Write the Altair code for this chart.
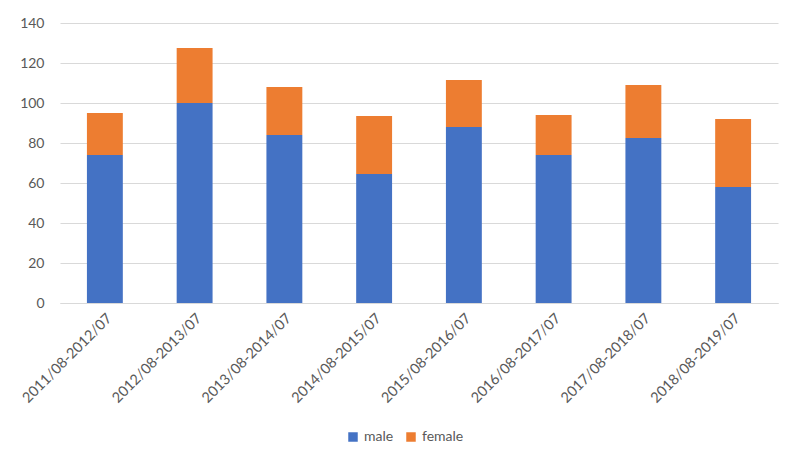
import altair as alt
import pandas as pd

periods = ["2011/08-2012/07", "2012/08-2013/07", "2013/08-2014/07", "2014/08-2015/07",
           "2015/08-2016/07", "2016/08-2017/07", "2017/08-2018/07", "2018/08-2019/07"]
male = [74, 100, 84, 64.5, 88, 74, 82.5, 58]
female = [21, 27.5, 24, 29, 23.5, 20, 26.5, 34]
series = ["male", "female"]
colors = ["#4472C4", "#ED7D31"]

rows = []
for p, m, f in zip(periods, male, female):
    rows.append({"period": p, "sex": "male", "value": m, "order": 0})
    rows.append({"period": p, "sex": "female", "value": f, "order": 1})
df = pd.DataFrame(rows)

font = "Lato"
chart = alt.Chart(df).mark_bar().encode(
    x=alt.X("period:N", sort=periods, title=None,
            scale=alt.Scale(paddingInner=0.6, paddingOuter=0.3),
            axis=alt.Axis(labelAngle=-45, labelAlign="right", labelBaseline="top",
                          labelFontSize=14.5, labelColor="#595959", labelFont=font,
                          ticks=False, domainColor="#d9d9d9", labelPadding=8)),
    y=alt.Y("value:Q", stack="zero", title=None,
            scale=alt.Scale(domain=[0, 140]),
            axis=alt.Axis(values=[0, 20, 40, 60, 80, 100, 120, 140], domain=False, ticks=False,
                          labelFontSize=14, labelColor="#595959", labelFont=font,
                          labelPadding=16, gridColor="#d9d9d9")),
    color=alt.Color("sex:N", sort=series, scale=alt.Scale(domain=series, range=colors),
                    legend=alt.Legend(title=None, orient="none", direction="horizontal",
                                      legendX=286, legendY=407,
                                      symbolType="square", symbolSize=90, labelFontSize=14,
                                      labelColor="#595959", labelFont=font,
                                      columnPadding=10, labelOffset=4, symbolStrokeWidth=0)),
    order=alt.Order("order:Q"),
).properties(
    width=718, height=280,
    padding={"left": 11, "top": 8, "right": 10, "bottom": 5},
).configure_view(stroke=None)

chart.save("out.html", embed_options={"renderer": "svg", "actions": False})
